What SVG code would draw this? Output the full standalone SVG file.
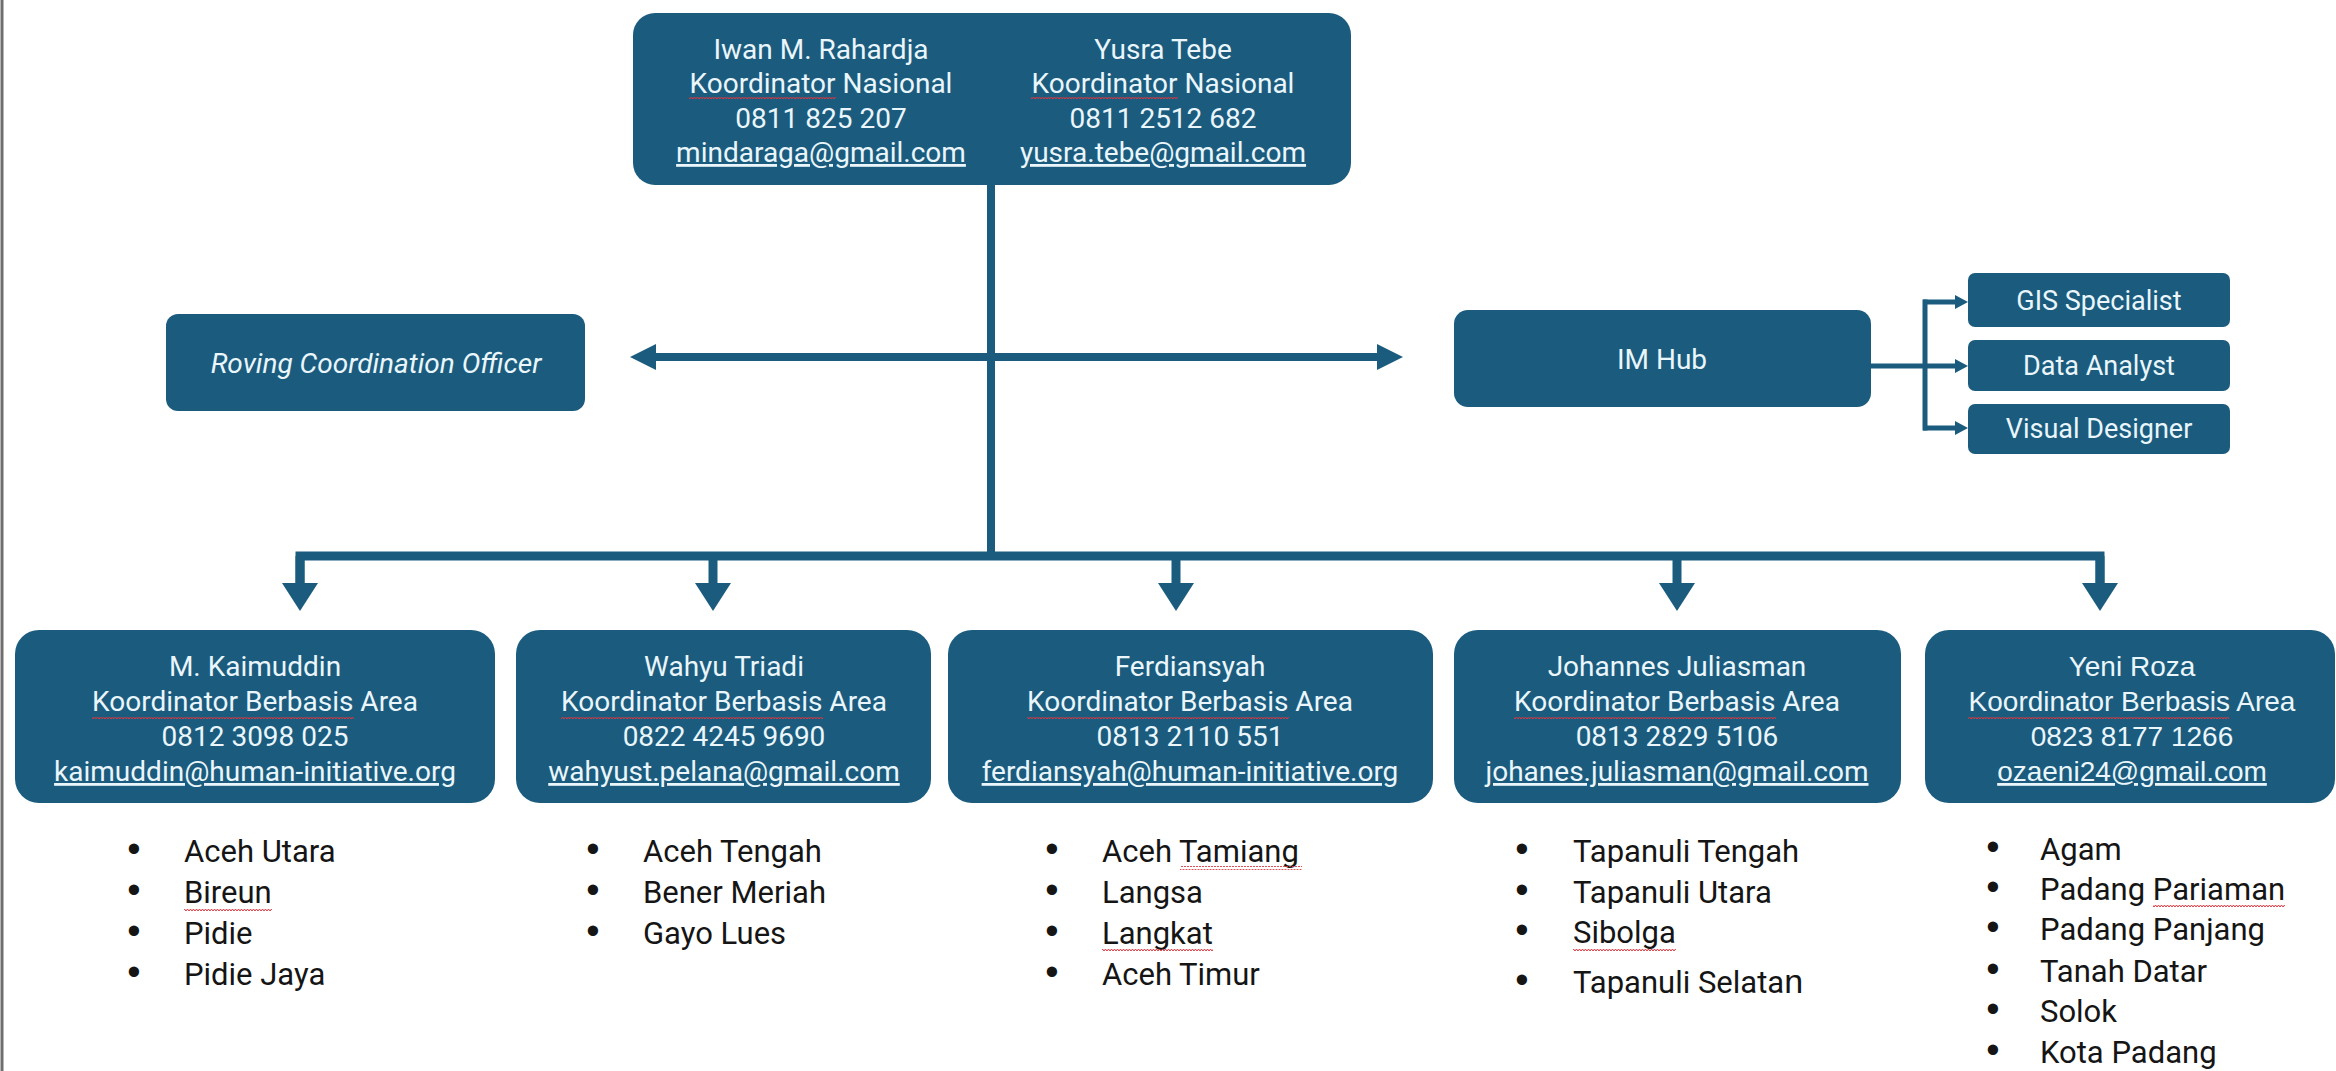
<svg xmlns="http://www.w3.org/2000/svg" width="2336" height="1071" viewBox="0 0 2336 1071">
<style>
.box{fill:#1b5c7e}
.t{font-family:Roboto,"Liberation Sans",sans-serif;font-size:28px;fill:#eaf6fb;text-anchor:middle}
.ta{font-family:"Liberation Sans",Arial,sans-serif;font-size:28px;fill:#eaf6fb;text-anchor:middle}
.s{font-size:27px}
.i{font-style:italic}
.u{text-decoration:underline}
.li{font-family:Roboto,"Liberation Sans",sans-serif;font-size:31px;fill:#151515}
.b{font-family:"Liberation Sans",Arial,sans-serif;font-size:38px;fill:#151515;text-anchor:middle}
.c{stroke:#1b5c7e;fill:none}
.w{fill:url(#wavy)}
</style>
<defs>
<pattern id="wavy" width="6" height="4" patternUnits="userSpaceOnUse">
<path d="M0,3 L1.5,1 L3,3 L4.5,1 L6,3" stroke="#d9363e" stroke-width="1" fill="none"/>
</pattern>
<marker id="aBig" markerUnits="userSpaceOnUse" markerWidth="28" markerHeight="36" viewBox="0 0 28 36" refX="1" refY="18" orient="auto">
<path d="M0,0 L28,18 L0,36 Z" fill="#1b5c7e"/>
</marker>
<marker id="aMid" markerUnits="userSpaceOnUse" markerWidth="26" markerHeight="26" viewBox="0 0 26 26" refX="1" refY="13" orient="auto-start-reverse">
<path d="M0,0 L26,13 L0,26 Z" fill="#1b5c7e"/>
</marker>
<marker id="aSm" markerUnits="userSpaceOnUse" markerWidth="13" markerHeight="14" viewBox="0 0 13 14" refX="1" refY="7" orient="auto">
<path d="M0,0 L13,7 L0,14 Z" fill="#1b5c7e"/>
</marker>
</defs>
<rect width="2336" height="1071" fill="#ffffff"/>
<line x1="2" y1="0" x2="2" y2="1071" stroke="#6e6e6e" stroke-width="3"/>

<g id="connectors">
<line class="c" x1="991" y1="185" x2="991" y2="556" stroke-width="8"/>
<line class="c" x1="655" y1="357" x2="1378" y2="357" stroke-width="8" marker-start="url(#aMid)" marker-end="url(#aMid)"/>
<path class="c" d="M300,584 V556 H2100 V584" stroke-width="9" stroke-linejoin="miter"/>
<line class="c" x1="300" y1="556" x2="300" y2="584" stroke-width="9" marker-end="url(#aBig)"/>
<line class="c" x1="713" y1="552" x2="713" y2="584" stroke-width="9" marker-end="url(#aBig)"/>
<line class="c" x1="1176" y1="552" x2="1176" y2="584" stroke-width="9" marker-end="url(#aBig)"/>
<line class="c" x1="1677" y1="552" x2="1677" y2="584" stroke-width="9" marker-end="url(#aBig)"/>
<line class="c" x1="2100" y1="556" x2="2100" y2="584" stroke-width="9" marker-end="url(#aBig)"/>
<path class="c" d="M1871,366 H1925 M1925,299.5 V430.5" stroke-width="5"/>
<line class="c" x1="1923" y1="302" x2="1956" y2="302" stroke-width="5" marker-end="url(#aSm)"/>
<line class="c" x1="1923" y1="366" x2="1956" y2="366" stroke-width="5" marker-end="url(#aSm)"/>
<line class="c" x1="1923" y1="428" x2="1956" y2="428" stroke-width="5" marker-end="url(#aSm)"/>
</g>

<g id="national">
<rect class="box" x="633" y="13" width="718" height="172" rx="22"/>
<text class="t" x="821" y="59">Iwan M. Rahardja</text>
<text class="t" x="821" y="93">Koordinator Nasional</text>
<text class="t" x="821" y="128">0811 825 207</text>
<text class="t u" x="821" y="162">mindaraga@gmail.com</text>
<text class="t" x="1163" y="59">Yusra Tebe</text>
<text class="t" x="1163" y="93">Koordinator Nasional</text>
<text class="t" x="1163" y="128">0811 2512 682</text>
<text class="t u" x="1163" y="162">yusra.tebe@gmail.com</text>
<rect class="w" x="689" y="97" width="147" height="4"/>
<rect class="w" x="1031" y="97" width="147" height="4"/>
</g>

<g id="roving">
<rect class="box" x="166" y="314" width="419" height="97" rx="12"/>
<text class="t i" x="376" y="373">Roving Coordination Officer</text>
</g>

<g id="imhub">
<rect class="box" x="1454" y="310" width="417" height="97" rx="14"/>
<text class="t" x="1662" y="369">IM Hub</text>
</g>

<g id="gis">
<rect class="box" x="1968" y="273" width="262" height="54" rx="7"/>
<text class="t s" x="2099" y="310">GIS Specialist</text>
</g>
<g id="data">
<rect class="box" x="1968" y="340" width="262" height="51" rx="7"/>
<text class="t s" x="2099" y="375">Data Analyst</text>
</g>
<g id="visual">
<rect class="box" x="1968" y="404" width="262" height="50" rx="7"/>
<text class="t s" x="2099" y="438">Visual Designer</text>
</g>

<g id="kaimuddin">
<rect class="box" x="15" y="630" width="480" height="173" rx="24"/>
<text class="t" x="255" y="676">M. Kaimuddin</text>
<text class="t" x="255" y="711">Koordinator Berbasis Area</text>
<text class="t" x="255" y="746">0812 3098 025</text>
<text class="t u" x="255" y="781">kaimuddin@human-initiative.org</text>
<rect class="w" x="92" y="715" width="262" height="4"/>
<text class="b" x="134" y="862">•</text><text class="li" x="184" y="862">Aceh Utara</text>
<text class="b" x="134" y="903">•</text><text class="li" x="184" y="903">Bireun</text>
<text class="b" x="134" y="944">•</text><text class="li" x="184" y="944">Pidie</text>
<text class="b" x="134" y="985">•</text><text class="li" x="184" y="985">Pidie Jaya</text>
<rect class="w" x="184" y="907" width="88" height="4"/>
</g>

<g id="wahyu">
<rect class="box" x="516" y="630" width="415" height="173" rx="24"/>
<text class="t" x="724" y="676">Wahyu Triadi</text>
<text class="t" x="724" y="711">Koordinator Berbasis Area</text>
<text class="t" x="724" y="746">0822 4245 9690</text>
<text class="t u" x="724" y="781">wahyust.pelana@gmail.com</text>
<rect class="w" x="561" y="715" width="262" height="4"/>
<text class="b" x="593" y="862">•</text><text class="li" x="643" y="862">Aceh Tengah</text>
<text class="b" x="593" y="903">•</text><text class="li" x="643" y="903">Bener Meriah</text>
<text class="b" x="593" y="944">•</text><text class="li" x="643" y="944">Gayo Lues</text>
</g>

<g id="ferdiansyah">
<rect class="box" x="948" y="630" width="485" height="173" rx="24"/>
<text class="t" x="1190" y="676">Ferdiansyah</text>
<text class="t" x="1190" y="711">Koordinator Berbasis Area</text>
<text class="t" x="1190" y="746">0813 2110 551</text>
<text class="t u" x="1190" y="781">ferdiansyah@human-initiative.org</text>
<rect class="w" x="1027" y="715" width="262" height="4"/>
<text class="b" x="1052" y="862">•</text><text class="li" x="1102" y="862">Aceh Tamiang</text>
<text class="b" x="1052" y="903">•</text><text class="li" x="1102" y="903">Langsa</text>
<text class="b" x="1052" y="944">•</text><text class="li" x="1102" y="944">Langkat</text>
<text class="b" x="1052" y="985">•</text><text class="li" x="1102" y="985">Aceh Timur</text>
<rect class="w" x="1180" y="866" width="122" height="4"/>
<rect class="w" x="1102" y="948" width="111" height="4"/>
</g>

<g id="johannes">
<rect class="box" x="1454" y="630" width="447" height="173" rx="24"/>
<text class="t" x="1677" y="676">Johannes Juliasman</text>
<text class="t" x="1677" y="711">Koordinator Berbasis Area</text>
<text class="t" x="1677" y="746">0813 2829 5106</text>
<text class="t u" x="1677" y="781">johanes.juliasman@gmail.com</text>
<rect class="w" x="1514" y="715" width="262" height="4"/>
<text class="b" x="1522" y="862">•</text><text class="li" x="1573" y="862">Tapanuli Tengah</text>
<text class="b" x="1522" y="903">•</text><text class="li" x="1573" y="903">Tapanuli Utara</text>
<text class="b" x="1522" y="943">•</text><text class="li" x="1573" y="943">Sibolga</text>
<text class="b" x="1522" y="993">•</text><text class="li" x="1573" y="993">Tapanuli Selata<tspan font-family="Liberation Sans, Arial, sans-serif" font-size="34">n</tspan></text>
<rect class="w" x="1573" y="947" width="103" height="4"/>
</g>

<g id="yeni">
<rect class="box" x="1925" y="630" width="410" height="173" rx="24"/>
<text class="ta" x="2132" y="676">Yeni Roza</text>
<text class="ta" x="2132" y="711">Koordinator Berbasis Area</text>
<text class="ta" x="2132" y="746">0823 8177 1266</text>
<text class="ta u" x="2132" y="781">ozaeni24@gmail.com</text>
<rect class="w" x="1968" y="715" width="261" height="4"/>
<text class="b" x="1993" y="860">•</text><text class="li" x="2040" y="860">Agam</text>
<text class="b" x="1993" y="900">•</text><text class="li" x="2040" y="900">Padang Pariaman</text>
<text class="b" x="1993" y="940">•</text><text class="li" x="2040" y="940">Padang Panjang</text>
<text class="b" x="1993" y="982">•</text><text class="li" x="2040" y="982">Tanah Datar</text>
<text class="b" x="1993" y="1022">•</text><text class="li" x="2040" y="1022">Solok</text>
<text class="b" x="1993" y="1063">•</text><text class="li" x="2040" y="1063">Kota Padang</text>
<rect class="w" x="2153" y="904" width="132" height="4"/>
</g>
</svg>
